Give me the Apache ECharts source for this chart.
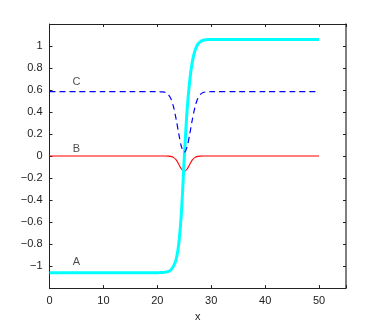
<!DOCTYPE html>
<html>
<head>
<meta charset="utf-8">
<script src="https://cdn.jsdelivr.net/npm/echarts@6/dist/echarts.min.js"></script>
<style>
  html, body { margin: 0; padding: 0; background: #fff; }
  #main { width: 382px; height: 327px; }
</style>
</head>
<body>
<div id="main"></div>
<script>
// x sample positions (dense around the transition at x = 25)
var xs = [0, 5, 10, 15, 20, 20.5, 21, 21.5, 22, 22.5, 23, 23.5, 24, 24.5, 25,
          25.5, 26, 26.5, 27, 27.5, 28, 28.5, 29, 29.5, 30, 35, 40, 45, 50];
// curve A (thick cyan step)
var seriesA = [-1.06, -1.06, -1.06, -1.06, -1.06, -1.059, -1.058, -1.055, -1.05, -1.035, -1.0, -0.94, -0.79, -0.49, -0.02,
               0.40, 0.68, 0.86, 0.96, 1.015, 1.04, 1.052, 1.057, 1.059, 1.06, 1.06, 1.06, 1.06, 1.06];
// curve B (thin red dip)
var seriesB = [0, 0, 0, 0, 0, 0, 0, 0, -0.0005, -0.003, -0.012, -0.035, -0.076, -0.12, -0.14,
               -0.12, -0.076, -0.035, -0.012, -0.003, -0.0005, 0, 0, 0, 0, 0, 0, 0, 0];
// curve C (blue dashed dip)
var seriesC = [0.585, 0.585, 0.585, 0.585, 0.585, 0.584, 0.583, 0.577, 0.561, 0.522, 0.448, 0.333, 0.196, 0.081, 0.035,
               0.081, 0.196, 0.333, 0.448, 0.522, 0.561, 0.577, 0.583, 0.584, 0.585, 0.585, 0.585, 0.585, 0.585];
// text annotations
var labelNames = ['A', 'B', 'C'];
var labelX = [5, 5, 5];
var labelY = [-0.96, 0.065, 0.67];

function pairs(ys) {
  var out = [];
  for (var i = 0; i < xs.length; i++) out.push([xs[i], ys[i]]);
  return out;
}

var labelData = [];
for (var i = 0; i < labelNames.length; i++) {
  labelData.push({ value: [labelX[i], labelY[i]], name: labelNames[i] });
}

var font = 'Liberation Sans, Arial, Helvetica, sans-serif';
var axisCol = '#222';

function yFmt(v) {
  if (Math.abs(v) > 1.1) return '';
  var r = Math.round(v * 10) / 10;
  var s = Math.abs(r).toString();
  return r < 0 ? '\u2212' + s : s;
}

var tick = { show: true, inside: true, length: 3, lineStyle: { color: axisCol } };

var myChart = echarts.init(document.getElementById('main'));
var option = {
  animation: false,
  backgroundColor: '#fff',
  grid: { left: 49.5, right: 36, top: 24, bottom: 37, containLabel: false },
  xAxis: [
    {
      type: 'value', min: 0, max: 55, interval: 10, position: 'bottom',
      name: 'x', nameLocation: 'middle', nameGap: 16,
      nameTextStyle: { color: axisCol, fontFamily: font, fontSize: 11 },
      axisLine: { show: true, onZero: false, lineStyle: { color: axisCol, width: 1 } },
      axisTick: tick,
      axisLabel: { color: axisCol, fontFamily: font, fontSize: 11, margin: 7,
                   formatter: function (v) { return v > 50 ? '' : String(v); } },
      splitLine: { show: false }
    },
    {
      type: 'value', min: 0, max: 55, interval: 10, position: 'top',
      axisLine: { show: true, onZero: false, lineStyle: { color: axisCol, width: 1 } },
      axisTick: tick,
      axisLabel: { show: false },
      splitLine: { show: false }
    }
  ],
  yAxis: [
    {
      type: 'value', min: -1.2, max: 1.2, interval: 0.2, position: 'left',
      axisLine: { show: true, onZero: false, lineStyle: { color: axisCol, width: 1 } },
      axisTick: tick,
      axisLabel: { color: axisCol, fontFamily: font, fontSize: 11, margin: 7, formatter: yFmt },
      splitLine: { show: false }
    },
    {
      type: 'value', min: -1.2, max: 1.2, interval: 0.2, position: 'right',
      axisLine: { show: true, onZero: false, lineStyle: { color: '#555', width: 1.5 } },
      axisTick: tick,
      axisLabel: { show: false },
      splitLine: { show: false }
    }
  ],
  series: [
    {
      name: 'B', type: 'line', data: pairs(seriesB), showSymbol: false, smooth: 0.3,
      lineStyle: { color: '#ff0000', width: 1.1 }
    },
    {
      name: 'A', type: 'line', data: pairs(seriesA), showSymbol: false, smooth: 0.3,
      lineStyle: { color: '#00ffff', width: 3 }
    },
    {
      name: 'C', type: 'line', data: pairs(seriesC), showSymbol: false, smooth: 0.3,
      lineStyle: { color: '#0000ff', width: 1.2, type: [6, 4] }
    },
    {
      name: 'labels', type: 'scatter', data: labelData, symbolSize: 0,
      label: { show: true, position: 'inside', formatter: '{b}',
               color: axisCol, fontFamily: font, fontSize: 11 }
    }
  ]
};
myChart.setOption(option);
</script>
</body>
</html>
